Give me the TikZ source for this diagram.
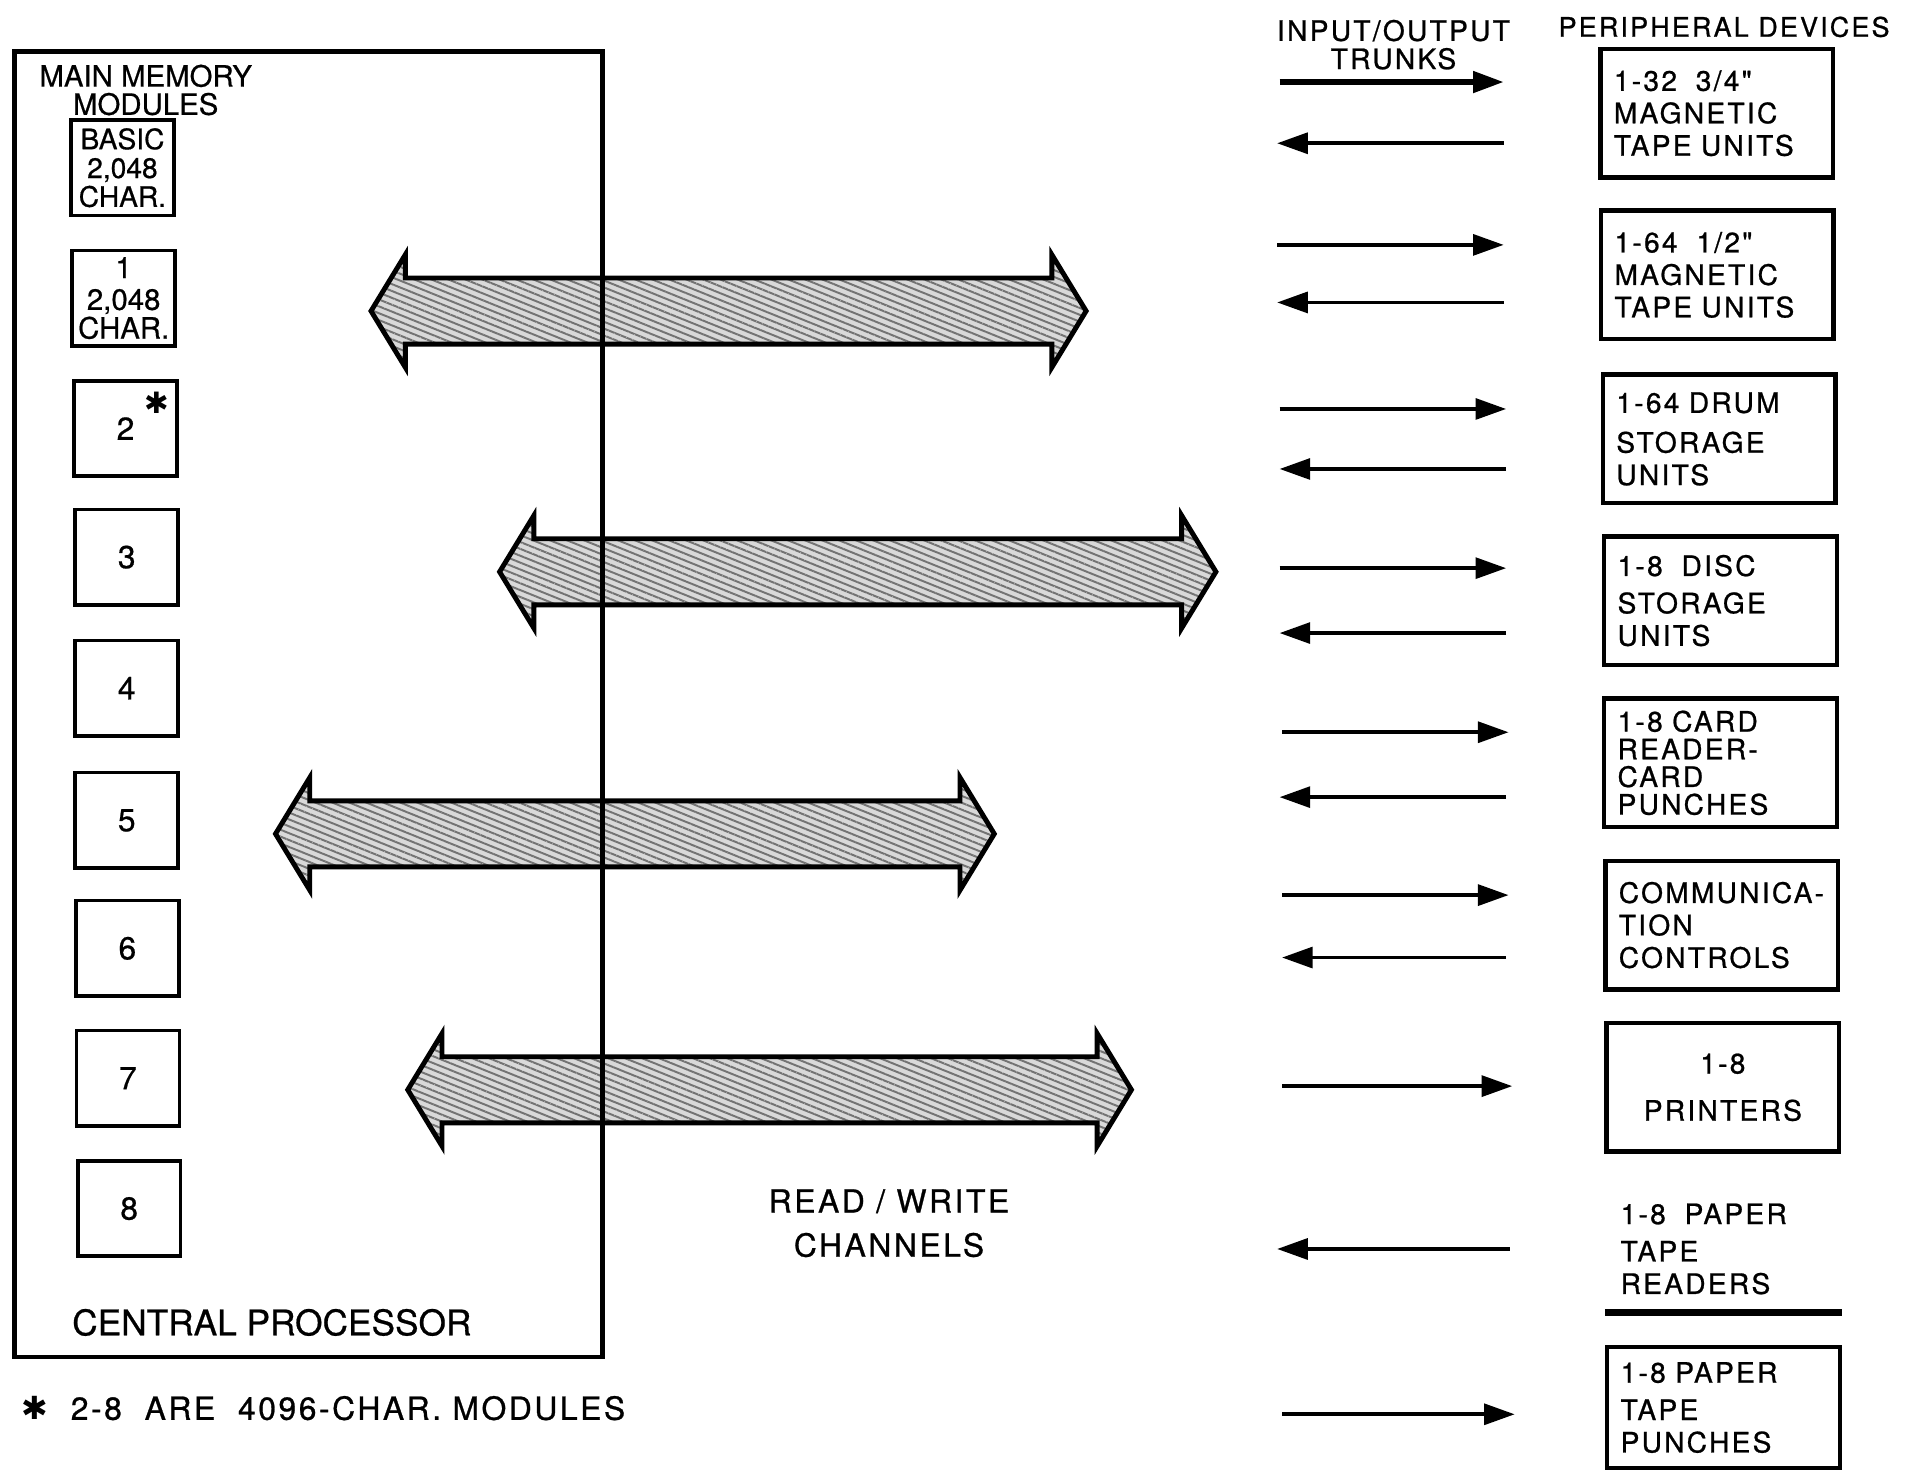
\documentclass[tikz,border=0pt]{standalone}
\usepackage{fontspec}
\setmainfont[FakeBold=0.6]{TeX Gyre Heros}
\newfontfamily\spaced[LetterSpace=8,FakeBold=0.8]{TeX Gyre Heros}
\newfontfamily\symfont{DejaVu Sans}
\usetikzlibrary{arrows.meta,patterns.meta}

\tikzset{
  modbox/.style={draw, line width=1.5pt, minimum width=42pt, minimum height=39pt,
    inner sep=0pt, align=center, font=\fontsize{13}{13}\selectfont},
  devbox/.style={draw, line width=1.8pt, minimum height=52.5pt, text width=84pt,
    inner xsep=5.5pt, inner ysep=0pt, align=left,
    font=\spaced\fontsize{11.5}{13.25}\selectfont},
  trunk/.style={line width=1.5pt, -{Triangle[length=12.5pt,width=8.5pt]}},
  channel/.style={line width=2pt, line join=miter, preaction={fill=gray!30},
    pattern={Lines[angle=-22, distance=2.6pt, line width=0.8pt]}, pattern color=black!55},
}

\begin{document}
\begin{tikzpicture}[x=0.5pt, y=-0.5pt]
	\useasboundingbox (0,0) rectangle (1568,1202);

	% read/write channels
	\foreach \xl/\xr/\yc in {303/887/254, 408/993/467, 225/812/681, 333/924/890}
		\draw[channel] (\xl,\yc) -- ++(28,-46) -- ++(0,19) -- (\xr-28,\yc-27)
			-- ++(0,-19) -- (\xr,\yc) -- ++(-28,46) -- ++(0,-19)
			-- (\xl+28,\yc+27) -- ++(0,19) -- cycle;

	% central processor
	\node[draw, line width=1.8pt, minimum width=240pt, minimum height=533pt] (cpu) at (252,575) {};
	\node[font=\fontsize{12}{11.5}\selectfont, align=center] (memlbl) at (119,73.5) {MAIN MEMORY\\MODULES};
	\node[modbox, font=\fontsize{11.5}{11.75}\selectfont] (basic) at (100,137) {BASIC\\2,048\\CHAR.};
	\node[modbox, font=\fontsize{12}{10}\selectfont] (m1) at (101,243.5) {1\\[3pt]2,048\\CHAR.};
	\node[modbox] (m2) at (102.5,350) {2};
	\node[font=\symfont\fontsize{12}{12}\selectfont] (star) at (128,329) {✱};
	\node[modbox] (m3) at (103.5,455) {3};
	\node[modbox] (m4) at (103.5,562) {4};
	\node[modbox] (m5) at (103.5,670) {5};
	\node[modbox] (m6) at (104,774.5) {6};
	\node[modbox] (m7) at (104.5,880.5) {7};
	\node[modbox] (m8) at (105.5,987) {8};
	\node[font=\fontsize{14.4}{14.4}\selectfont] (cpulbl) at (222,1080) {CENTRAL PROCESSOR};
	\node[font=\spaced\fontsize{13}{13}\selectfont] (note) at (264,1150) {{\symfont ✱}~~2-8~~ARE~~4096-CHAR.~MODULES};
	\node[font=\spaced\fontsize{13}{18}\selectfont, align=center] (rwlbl) at (726,999) {READ / WRITE\\CHANNELS};

	% trunks
	\node[font=\spaced\fontsize{11.5}{11.5}\selectfont, align=center] (iolbl) at (1138,36.5) {INPUT/OUTPUT\\TRUNKS};
	\coordinate (out1-from) at (1045,67);
	\coordinate (out1-to) at (1228,67);
	\draw[trunk, line width=2.2pt] (out1-from) -- (out1-to);
	\foreach \i/\xs/\xe/\y in {2/1043/1228/200, 3/1045/1230/334, 4/1045/1230/464,
		5/1047/1232/598, 6/1047/1232/731, 7/1047/1235/887, 8/1047/1237/1155} {
		\coordinate (out\i-from) at (\xs,\y);
		\coordinate (out\i-to) at (\xe,\y);
		\draw[trunk] (out\i-from) -- (out\i-to);
	}
	\foreach \i/\xs/\xe/\y in {1/1228/1043/117, 2/1228/1043/247, 3/1230/1045/383,
		4/1230/1045/517, 5/1230/1045/651, 6/1230/1047/782, 7/1233/1043/1020} {
		\coordinate (in\i-from) at (\xs,\y);
		\coordinate (in\i-to) at (\xe,\y);
		\draw[trunk] (in\i-from) -- (in\i-to);
	}

	% peripheral devices
	\node[font=\spaced\fontsize{11}{11}\selectfont] (perlbl) at (1408,22) {PERIPHERAL DEVICES};
	\node[devbox] (tape34) at (1402,92.5) {1-32~~3/4"\\MAGNETIC\\TAPE UNITS};
	\node[devbox] (tape12) at (1402.5,224.5) {1-64~~1/2"\\MAGNETIC\\TAPE UNITS};
	\node[devbox] (drum) at (1404,358.5) {1-64 DRUM\\[3pt]STORAGE\\UNITS};
	\node[devbox] (disc) at (1405,490.5) {1-8~~DISC\\[2pt]STORAGE\\UNITS};
	\node[devbox, font=\spaced\fontsize{11.5}{11.3}\selectfont] (card) at (1405,623) {1-8 CARD\\READER-\\CARD\\PUNCHES};
	\node[devbox] (comm) at (1406,755.5) {COMMUNICA-\\TION\\CONTROLS};
	\node[devbox, align=center] (print) at (1407,888) {1-8\\[6pt]PRINTERS};
	\node[devbox, draw=none, minimum height=50pt] (ptread) at (1407.5,1020) {1-8~~PAPER\\[2pt]TAPE\\READERS};
	\draw[line width=3pt] (ptread.south west) -- (ptread.south east);
	\node[devbox, minimum height=49.5pt] (ptpunch) at (1407.5,1149.5) {1-8 PAPER\\[2pt]TAPE\\PUNCHES};

\end{tikzpicture}
\end{document}
